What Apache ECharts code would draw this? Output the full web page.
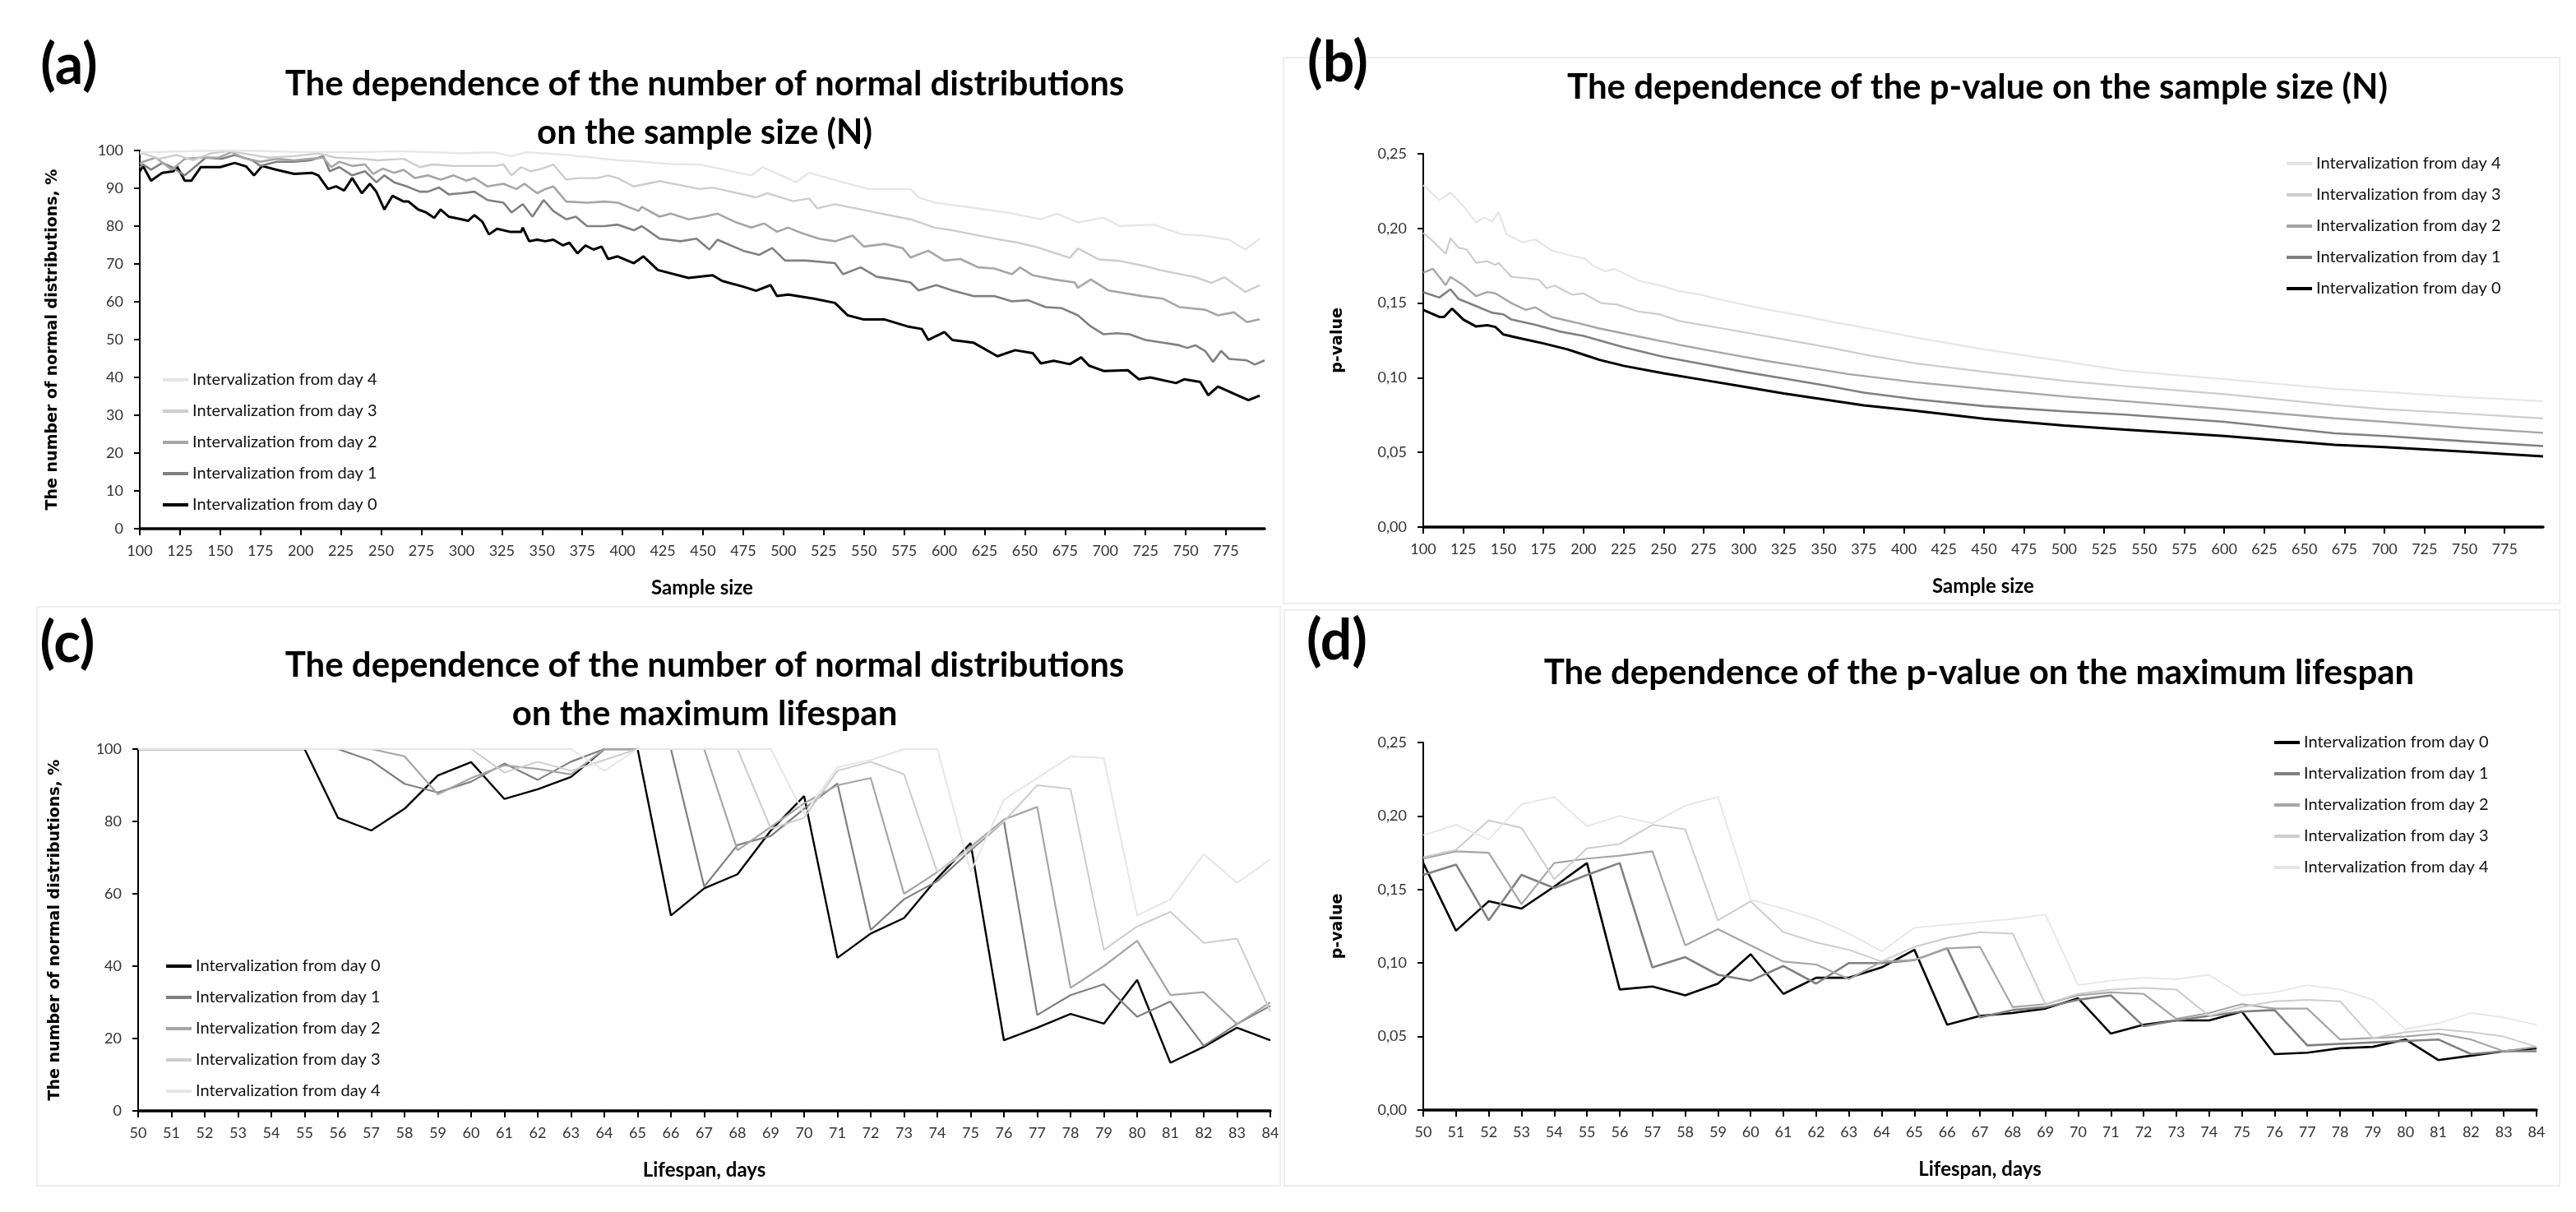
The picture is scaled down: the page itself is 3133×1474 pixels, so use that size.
<!DOCTYPE html>
<html><head><meta charset="utf-8">
<script src="https://cdn.jsdelivr.net/npm/echarts@6/dist/echarts.min.js"></script>
<style>html,body{margin:0;padding:0;background:#fff}#c{width:3133px;height:1474px}</style>
</head><body><div id="c"></div>
<script>
const seriesNames = ['Intervalization from day 0','Intervalization from day 1','Intervalization from day 2','Intervalization from day 3','Intervalization from day 4'];
const lifespanDays = ['50','51','52','53','54','55','56','57','58','59','60','61','62','63','64','65','66','67','68','69','70','71','72','73','74','75','76','77','78','79','80','81','82','83','84'];

// (a) % normal distributions vs sample size  [N, %]
const a_day0 = [[100,94.5],[102,95.9],[107,92],[114,94.1],[121,94.5],[123,95.9],[128,92],[132,92],[138,95.6],[150,95.6],[159,96.7],[166,95.8],[171,93.4],[176,95.9],[185,94.9],[196,93.8],[207,94.1],[211,93.4],[217,89.8],[222,90.5],[227,89.4],[232,92.7],[238,88.7],[243,91.2],[247,89.1],[252,84.4],[257,88],[264,86.5],[267,86.5],[273,84.4],[278,83.6],[283,82.2],[287,84.4],[292,82.5],[300,81.8],[304,81.4],[308,82.9],[313,81.1],[317,77.8],[322,79.3],[330,78.5],[337,78.5],[338,79.6],[342,76],[347,76.4],[352,76],[357,76.4],[363,74.9],[367,75.6],[372,72.8],[377,74.9],[382,73.8],[387,74.6],[391,71.3],[397,72],[407,70.2],[413,72],[422,68.4],[441,66.3],[456,67],[462,65.5],[475,64],[483,62.9],[492,64.4],[496,61.5],[503,61.9],[519,60.8],[532,59.7],[540,56.4],[550,55.3],[563,55.3],[577,53.5],[586,52.8],[590,49.9],[600,52],[605,49.9],[618,49.2],[633,45.6],[644,47.2],[655,46.4],[660,43.7],[668,44.4],[678,43.5],[685,45.3],[690,43.1],[699,41.7],[714,41.9],[721,39.5],[728,40],[744,38.5],[749,39.5],[759,38.8],[764,35.3],[770,37.6],[780,35.7],[789,34],[796,35.2]];
const a_day1 = [[100,95.5],[102,96.3],[107,94.9],[114,96.7],[120,95.6],[128,93.4],[136,96.3],[141,98.1],[151,97.8],[159,98.8],[170,97.4],[175,95.9],[185,97],[196,97],[206,97.4],[214,98.5],[218,94.5],[224,95.6],[232,93.4],[240,94.5],[247,91.6],[252,93.4],[258,91.6],[266,90.5],[274,89.1],[279,89.1],[286,90.2],[292,88.4],[300,88.7],[308,89.1],[316,86.9],[326,86.2],[331,83.6],[338,85.8],[344,82.5],[351,86.9],[357,84],[365,81.8],[371,82.5],[378,80],[389,80],[397,80.4],[407,78.9],[412,80],[423,76.7],[436,76],[446,76.7],[454,73.8],[459,76.4],[475,73.5],[485,72.4],[493,74.2],[501,70.9],[514,70.9],[532,70.2],[537,67.3],[548,69.1],[558,66.6],[569,65.9],[579,65.1],[584,63],[595,64.4],[605,63],[618,61.5],[631,61.5],[642,60.1],[652,60.4],[663,58.6],[673,58.3],[683,56.4],[691,53.5],[699,51.4],[707,51.7],[715,51.4],[725,49.9],[736,49.2],[746,48.5],[751,47.8],[756,48.5],[762,47],[767,44.1],[772,47],[777,44.9],[788,44.5],[793,43.4],[799,44.5]];
const a_day2 = [[100,96.5],[102,97],[110,98.1],[120,94.9],[128,97.8],[138,98.1],[149,98.1],[157,99.6],[164,98.1],[175,97],[185,97.8],[196,97.4],[206,97.8],[214,98.1],[219,95.6],[224,97],[232,95.9],[240,96.3],[245,93.8],[251,95.2],[258,94.1],[264,94.9],[271,92.7],[279,93.4],[287,92.3],[295,93.4],[303,92],[308,92.7],[316,90.5],[326,91.2],[334,89.8],[339,91.2],[347,88.7],[352,89.8],[357,90.5],[365,86.5],[378,86.2],[389,86.5],[397,86.2],[410,84],[412,85.1],[423,82.5],[430,83.3],[441,81.8],[451,82.5],[459,83.3],[470,81.1],[480,79.6],[488,80.7],[496,78.5],[503,79.6],[511,78.2],[522,76.7],[532,76],[543,77.5],[550,74.6],[563,75.3],[574,74.2],[579,71.7],[590,73.5],[600,70.9],[610,71.3],[621,69.1],[631,68.8],[642,67.3],[647,69.1],[655,67],[668,65.9],[681,65.1],[683,63.7],[691,65.9],[702,63],[723,61.5],[736,60.8],[746,58.6],[762,57.9],[770,56.4],[780,57.2],[788,54.6],[796,55.4]];
const a_day3 = [[100,99],[102,99.2],[112,97.8],[123,98.8],[133,97.4],[144,99.2],[155,99.9],[170,98.8],[180,98.1],[196,98.5],[211,99.2],[222,98.1],[238,97.8],[248,97.4],[264,97.8],[274,95.6],[282,96.3],[295,95.9],[321,95.9],[326,96.3],[331,93.4],[337,95.6],[343,94.5],[350,95.2],[357,96.3],[365,92.3],[373,92.7],[384,92.7],[391,93.4],[397,92.7],[407,90.5],[423,91.9],[448,89.8],[456,90.2],[483,87.6],[490,88.7],[506,86.6],[516,87.3],[521,84.7],[532,85.8],[553,84],[569,82.6],[579,81.8],[594,79.6],[605,78.9],[631,76.7],[646,75.6],[657,74.5],[678,71.6],[683,74.1],[696,71.2],[709,70.8],[725,69.4],[735,68.3],[756,66.5],[766,65],[774,66.5],[787,62.6],[796,64.4]];
const a_day4 = [[100,99.5],[130,99.8],[160,100],[200,99.6],[240,99.6],[260,99.8],[300,99.3],[320,99.5],[331,98.5],[340,99.5],[360,99],[380,98.2],[397,97.4],[407,97.2],[430,96.4],[448,96.3],[480,93.4],[487,95.6],[508,91.6],[516,94.1],[537,91.6],[553,89.8],[579,89.8],[584,87.6],[594,86.2],[615,85],[639,83.6],[660,81.8],[670,83.3],[683,81],[699,82.2],[709,80],[730,80.4],[748,77.8],[761,77.5],[777,76.4],[787,73.8],[796,76.7]];

// (b) p-value vs sample size  [N, p]
const b_day0 = [[100,0.1454],[110,0.1407],[113,0.1407],[118,0.1463],[125,0.139],[133,0.1343],[140,0.1352],[145,0.134],[150,0.129],[160,0.1265],[175,0.123],[190,0.119],[200,0.1155],[210,0.112],[225,0.108],[250,0.103],[275,0.0985],[300,0.094],[325,0.0895],[350,0.0855],[375,0.0815],[407,0.0779],[450,0.0725],[500,0.068],[538,0.0652],[600,0.061],[669,0.055],[700,0.0535],[750,0.0505],[799,0.0473]];
const b_day1 = [[100,0.1574],[110,0.1537],[117,0.1593],[122,0.1528],[133,0.148],[143,0.1435],[150,0.1425],[155,0.139],[170,0.1355],[185,0.131],[200,0.128],[225,0.1205],[250,0.114],[275,0.109],[300,0.104],[325,0.0995],[350,0.095],[375,0.090],[407,0.0856],[450,0.081],[500,0.0775],[538,0.0753],[600,0.0705],[669,0.0628],[700,0.061],[750,0.0575],[799,0.0542]];
const b_day2 = [[100,0.1704],[106,0.173],[114,0.162],[117,0.1676],[125,0.162],[133,0.1546],[140,0.1574],[145,0.1565],[155,0.150],[164,0.1454],[170,0.1472],[180,0.1407],[195,0.137],[210,0.133],[235,0.1275],[260,0.122],[287,0.1165],[313,0.1115],[339,0.107],[365,0.1025],[407,0.097],[450,0.0925],[500,0.0875],[538,0.0843],[600,0.079],[669,0.0728],[700,0.0705],[750,0.0665],[799,0.0631]];
const b_day3 = [[100,0.197],[106,0.1915],[114,0.183],[117,0.1935],[122,0.187],[127,0.186],[133,0.177],[140,0.178],[145,0.1755],[147,0.177],[155,0.1676],[164,0.1667],[172,0.1657],[177,0.160],[182,0.1618],[193,0.1556],[200,0.1565],[211,0.150],[221,0.149],[234,0.1444],[247,0.1426],[260,0.138],[273,0.1355],[287,0.133],[300,0.1305],[326,0.1255],[352,0.1205],[378,0.115],[407,0.1097],[450,0.104],[500,0.098],[538,0.0944],[600,0.089],[669,0.0817],[700,0.079],[750,0.076],[799,0.0728]];
const b_day4 = [[100,0.229],[104,0.225],[110,0.219],[117,0.224],[125,0.215],[133,0.204],[138,0.2074],[143,0.2046],[147,0.211],[152,0.196],[162,0.1907],[170,0.1926],[180,0.1852],[190,0.1824],[201,0.1796],[206,0.175],[214,0.1713],[219,0.173],[235,0.1648],[247,0.162],[260,0.158],[273,0.1556],[287,0.152],[300,0.149],[313,0.146],[326,0.1435],[339,0.141],[352,0.138],[365,0.1355],[378,0.133],[407,0.127],[450,0.119],[500,0.111],[538,0.1047],[600,0.099],[669,0.0925],[700,0.0905],[750,0.087],[799,0.0843]];

// (c) % normal distributions vs maximum lifespan (days 50..84)
const c_day0 = [100,100,100,100,100,100,81,77.5,83.5,92.7,96.4,86.2,88.9,92.3,100,100,54,61.5,65.4,77.5,87,42.3,49,53.3,64.3,74,19.5,23,26.8,24.1,36.2,13.3,17.7,23,19.5];
const c_day1 = [100,100,100,100,100,100,100,96.8,90.4,88,91,96,91.5,96.5,100,100,100,62,73.5,76,83.5,90.5,50,58.5,63.5,72,80,26.5,32,35,26,30.2,18,24,29];
const c_day2 = [100,100,100,100,100,100,100,100,98,87.5,92,95.5,94.5,93,100,100,100,100,72,78.5,85,90,92,60,66,73,80.5,84,34,40,47,32,32.8,24,30];
const c_day3 = [100,100,100,100,100,100,100,100,100,100,100,93.5,96.5,94,97,100,100,100,100,78,81,94,96.5,93,66,72.5,80,90,89,44.5,51,55,46.4,47.6,27.5];
const c_day4 = [100,100,100,100,100,100,100,100,100,100,100,100,100,100,94,100,100,100,100,100,82,95,97,100,100,66,86,92,98,97.5,54,58.5,71,63,69.5];

// (d) p-value vs maximum lifespan (days 50..84)
const d_day0 = [0.168,0.122,0.142,0.137,0.152,0.168,0.082,0.084,0.078,0.086,0.106,0.079,0.090,0.090,0.097,0.109,0.058,0.064,0.066,0.069,0.076,0.052,0.058,0.061,0.061,0.067,0.038,0.039,0.042,0.043,0.048,0.034,0.037,0.040,0.042];
const d_day1 = [0.160,0.167,0.129,0.160,0.151,0.160,0.168,0.097,0.104,0.092,0.088,0.098,0.086,0.100,0.100,0.102,0.110,0.063,0.068,0.070,0.075,0.078,0.057,0.061,0.064,0.067,0.068,0.044,0.045,0.046,0.047,0.048,0.038,0.040,0.040];
const d_day2 = [0.171,0.176,0.175,0.140,0.168,0.171,0.173,0.176,0.112,0.123,0.112,0.101,0.099,0.089,0.101,0.102,0.110,0.111,0.070,0.072,0.078,0.080,0.079,0.062,0.066,0.072,0.069,0.069,0.048,0.049,0.050,0.052,0.048,0.040,0.043];
const d_day3 = [0.172,0.177,0.197,0.192,0.157,0.178,0.181,0.194,0.191,0.129,0.142,0.121,0.114,0.109,0.101,0.111,0.117,0.121,0.120,0.072,0.079,0.082,0.083,0.082,0.064,0.070,0.074,0.075,0.074,0.049,0.053,0.055,0.053,0.050,0.043];
const d_day4 = [0.187,0.194,0.184,0.208,0.213,0.193,0.200,0.195,0.207,0.213,0.143,0.137,0.130,0.120,0.108,0.124,0.126,0.128,0.130,0.133,0.085,0.088,0.090,0.089,0.092,0.078,0.080,0.085,0.082,0.075,0.055,0.059,0.066,0.063,0.058];

const colors = ['#000000','#808080','#a6a6a6','#cdcdcd','#e6e6e6'];
const FONT = 'Lato';
const chart = echarts.init(document.getElementById('c'), null, {renderer:'canvas'});

const grids = [
  {left:170, top:183, width:1368, height:460},
  {left:1731, top:187, width:1362, height:454},
  {left:168, top:911, width:1377, height:440},
  {left:1731, top:903, width:1354, height:447}
];
const pFmt = v => v.toFixed(2).replace('.', ',');
const lbl = {fontSize:18, fontFamily:FONT, color:'#333'};
const nameSt = {fontSize:19, fontWeight:'bold', fontFamily:'DejaVu Sans', color:'#000'};
const xNameSt = {fontSize:24, fontWeight:'bold', fontFamily:FONT, color:'#000'};
function xAxisBase(i){
  return {gridIndex:i, axisLine:{show:true, onZero:false, lineStyle:{color:'#000', width:3.5}},
    axisTick:{show:true, length:8, lineStyle:{color:'#000', width:2}}, splitLine:{show:false},
    nameLocation:'middle', nameGap:60, nameTextStyle:xNameSt};
}
function yAxisBase(i){
  return {gridIndex:i, type:'value', axisLine:{show:true, lineStyle:{color:'#000', width:2}},
    axisTick:{show:true, length:7, lineStyle:{color:'#000', width:2}}, splitLine:{show:false},
    nameLocation:'middle', nameTextStyle:nameSt};
}
const xAxes = [
  Object.assign(xAxisBase(0), {type:'value', min:100, max:799, interval:25, name:'Sample size',
    axisLabel:Object.assign({margin:18, showMaxLabel:false}, lbl)}),
  Object.assign(xAxisBase(1), {type:'value', min:100, max:799, interval:25, name:'Sample size',
    axisLabel:Object.assign({margin:18, showMaxLabel:false}, lbl)}),
  Object.assign(xAxisBase(2), {type:'category', data:lifespanDays, boundaryGap:false, name:'Lifespan, days',
    axisTick:{show:true, length:8, interval:0, lineStyle:{color:'#000', width:2}},
    axisLabel:Object.assign({margin:18, interval:0}, lbl)}),
  Object.assign(xAxisBase(3), {type:'category', data:lifespanDays, boundaryGap:false, name:'Lifespan, days',
    axisTick:{show:true, length:8, interval:0, lineStyle:{color:'#000', width:2}},
    axisLabel:Object.assign({margin:18, interval:0}, lbl)})
];
const yAxes = [
  Object.assign(yAxisBase(0), {min:0, max:100, interval:10, name:'The number of normal distributions, %', nameGap:96,
    axisLabel:Object.assign({margin:20}, lbl)}),
  Object.assign(yAxisBase(1), {min:0, max:0.25, interval:0.05, name:'p-value', nameGap:94,
    axisLabel:Object.assign({margin:20, formatter:pFmt}, lbl)}),
  Object.assign(yAxisBase(2), {min:0, max:100, interval:20, name:'The number of normal distributions, %', nameGap:91,
    axisLabel:Object.assign({margin:20}, lbl)}),
  Object.assign(yAxisBase(3), {min:0, max:0.25, interval:0.05, name:'p-value', nameGap:94,
    axisLabel:Object.assign({margin:20, formatter:pFmt}, lbl)})
];

const panelData = [
  [a_day0,a_day1,a_day2,a_day3,a_day4],
  [b_day0,b_day1,b_day2,b_day3,b_day4],
  [c_day0,c_day1,c_day2,c_day3,c_day4],
  [d_day0,d_day1,d_day2,d_day3,d_day4]
];
const widths = [[3,2.6,2.6,2.4,2.4],[3,2.6,2.4,2.2,2.2],[2.4,2.2,2.2,2,2],[2.6,2.6,2.2,2,1.8]];
const series = [];
panelData.forEach((arrs, p) => {
  arrs.forEach((arr, k) => {
    series.push({type:'line', name:seriesNames[k], xAxisIndex:p, yAxisIndex:p, data:arr,
      showSymbol:false, symbol:'none', silent:true, z:2,
      lineStyle:{color:colors[k], width:widths[p][k]}, itemStyle:{color:colors[k]}});
  });
});

const desc = seriesNames.slice().reverse();
const legBase = {orient:'vertical', itemWidth:31, itemHeight:4, icon:'rect', selectedMode:false,
  itemGap:18, textStyle:{fontSize:20, fontFamily:FONT, color:'#111', lineHeight:20}};
const legends = [
  Object.assign({}, legBase, {data:desc, left:193, top:447}),
  Object.assign({}, legBase, {data:desc, left:2776, top:184}),
  Object.assign({}, legBase, {data:seriesNames, left:197, top:1160}),
  Object.assign({}, legBase, {data:seriesNames, left:2761, top:888})
];

const titleSt = {fontSize:42, fontWeight:'bold', fontFamily:FONT, fill:'#000', align:'center', verticalAlign:'middle', lineHeight:59};
const tagSt = {fontSize:68, fontWeight:'bold', fontFamily:FONT, fill:'#000', align:'center', verticalAlign:'middle'};
const graphic = [
  {type:'rect', shape:{x:1561, y:70, width:1552, height:664}, style:{fill:'none', stroke:'#eeeeee', lineWidth:2}, silent:true},
  {type:'rect', shape:{x:45, y:738, width:1512, height:704}, style:{fill:'none', stroke:'#eeeeee', lineWidth:2}, silent:true},
  {type:'rect', shape:{x:1562, y:742, width:1551, height:700}, style:{fill:'none', stroke:'#eeeeee', lineWidth:2}, silent:true},
  {type:'text', x:84, y:80, style:Object.assign({text:'(a)'}, tagSt)},
  {type:'text', x:1627, y:77, style:Object.assign({text:'(b)'}, tagSt)},
  {type:'text', x:82, y:783, style:Object.assign({text:'(c)'}, tagSt)},
  {type:'text', x:1626, y:780, style:Object.assign({text:'(d)'}, tagSt)},
  {type:'text', x:857, y:132, style:Object.assign({text:'The dependence of the number of normal distributions\non the sample size (N)'}, titleSt)},
  {type:'text', x:2405, y:106, style:Object.assign({text:'The dependence of the p-value on the sample size (N)'}, titleSt)},
  {type:'text', x:857, y:839, style:Object.assign({text:'The dependence of the number of normal distributions\non the maximum lifespan'}, titleSt)},
  {type:'text', x:2407, y:818, style:Object.assign({text:'The dependence of the p-value on the maximum lifespan'}, titleSt)}
];

chart.setOption({
  animation:false, backgroundColor:'#fff',
  grid:grids, xAxis:xAxes, yAxis:yAxes, series:series, legend:legends, graphic:graphic
});
</script></body></html>
